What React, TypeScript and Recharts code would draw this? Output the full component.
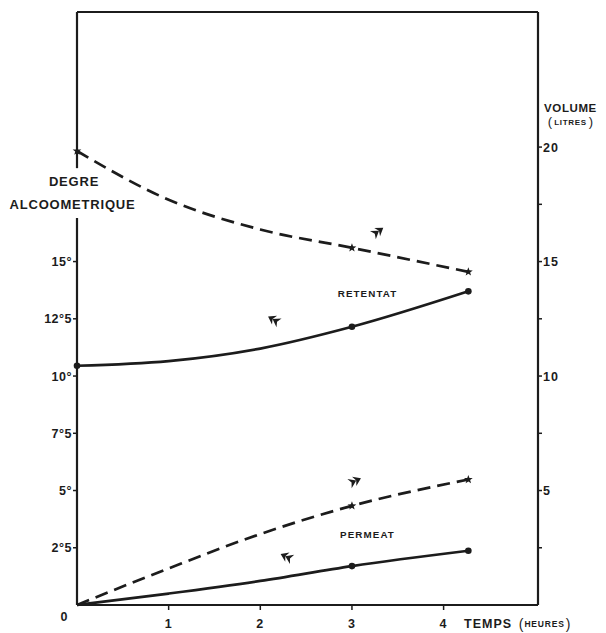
import React from 'react';
import { ComposedChart, Line, XAxis, YAxis, ReferenceLine, ReferenceDot, Label } from 'recharts';

// time (hours)
const times = [0, 1, 2, 3, 4.27];
const retentatMarkers = [true, false, false, true, true];
const permeatMarkers = [false, false, false, true, true];
// volumes (litres, right axis)
const retentatVolume = [19.83, 17.7, 16.4, 15.6, 14.55];
const permeatVolume = [0, 1.6, 3.1, 4.33, 5.48];
// alcohol degree (left axis)
const retentatDegree = [10.45, 10.65, 11.2, 12.15, 13.7];
const permeatDegree = [0, 0.5, 1.05, 1.7, 2.37];

const xTicks = [1, 2, 3, 4];
const leftTicks = [2.5, 5, 7.5, 10, 12.5, 15];
const leftTickLabels = ['2°5', '5°', '7°5', '10°', '12°5', '15°'];
const rightTicks = [2.5, 5, 7.5, 10, 12.5, 15, 17.5, 20];
const rightTickLabels = ['', '5', '', '10', '', '15', '', '20'];

// direction arrows [time, value, axis, angle]
const arrowTimes = [3.28, 2.15, 3.03, 2.29];
const arrowValues = [16.3, 12.45, 5.41, 2.1];
const arrowAxes = ['right', 'left', 'right', 'left'];
const arrowAngles = [-35, -150, -25, -155];

const curveLabels = ['RETENTAT', 'PERMEAT'];
const curveLabelTimes = [3.17, 3.17];
const curveLabelValues = [13.62, 3.06];

const X_MAX = 5.03;
const Y_MAX = 25.9;
const INK = '#1c1c1c';
const FONT = '"Liberation Sans", Arial, sans-serif';

const data = times.map((t, i) => ({
  t,
  rv: retentatVolume[i],
  rd: retentatDegree[i],
  pv: permeatVolume[i],
  pd: permeatDegree[i],
  rm: retentatMarkers[i],
  pm: permeatMarkers[i],
}));

function starPath(cx: number, cy: number, R: number, r: number) {
  let d = '';
  for (let i = 0; i < 10; i++) {
    const a = ((-90 + i * 36) * Math.PI) / 180;
    const rad = i % 2 === 0 ? R : r;
    d += (i === 0 ? 'M' : 'L') + (cx + rad * Math.cos(a)).toFixed(2) + ',' + (cy + rad * Math.sin(a)).toFixed(2);
  }
  return d + 'Z';
}

const makeStarDot = (flag: string) => (props: any) => {
  const { cx, cy, payload, index } = props;
  if (!payload[flag] || cx == null) return <g key={'s' + flag + index} />;
  return <path key={'s' + flag + index} d={starPath(cx, cy, 4.6, 1.9)} fill={INK} />;
};

const makeCircleDot = (flag: string) => (props: any) => {
  const { cx, cy, payload, index } = props;
  if (!payload[flag] || cx == null) return <g key={'c' + flag + index} />;
  return <circle key={'c' + flag + index} cx={cx} cy={cy} r={3.3} fill={INK} />;
};

const textStyle = { fontFamily: FONT, fontWeight: 700, fill: INK } as const;

const XTick = (props: any) => {
  const { x, y, payload } = props;
  return (
    <text x={x} y={y + 16} textAnchor="middle" fontSize={12.5} letterSpacing={1} style={textStyle}>
      {payload.value}
    </text>
  );
};

const LeftTick = (props: any) => {
  const { x, y, payload } = props;
  const idx = leftTicks.indexOf(payload.value);
  return (
    <text x={x} y={y + 4.5} textAnchor="end" fontSize={12.5} letterSpacing={0.5} style={textStyle}>
      {leftTickLabels[idx]}
    </text>
  );
};

const RightTick = (props: any) => {
  const { x, y, payload } = props;
  const idx = rightTicks.indexOf(payload.value);
  return (
    <text x={x} y={y + 4.5} textAnchor="start" fontSize={12.5} letterSpacing={1} style={textStyle}>
      {rightTickLabels[idx]}
    </text>
  );
};

const ArrowShape = (angle: number) => (props: any) => {
  const { cx, cy } = props;
  return (
    <g transform={`translate(${cx},${cy}) rotate(${angle}) scale(1.15)`}>
      <path d="M6,0 L-0.5,-4.4 L1.5,0 L-0.5,4.4 Z M1.5,0 L-5,-4.4 L-3,0 L-5,4.4 Z" fill={INK} />
    </g>
  );
};

const TextShape = (txt: string) => (props: any) => {
  const { cx, cy } = props;
  return (
    <text x={cx} y={cy + 3.5} textAnchor="middle" fontSize={9.8} letterSpacing={1.1} style={textStyle}>
      {txt}
    </text>
  );
};

const XLabels = (props: any) => {
  const vb = props.viewBox || { x: 69, y: 597, width: 461, height: 28 };
  const bx = vb.x + 387;
  const by = vb.y + 22.5;
  return (
    <g>
      <text x={vb.x - 13} y={vb.y + 16} textAnchor="middle" fontSize={12.5} style={textStyle}>0</text>
      <text x={bx} y={by} textAnchor="start" fontSize={12.5} letterSpacing={1} style={textStyle}>TEMPS</text>
      <text x={bx + 57} y={by + 1} textAnchor="middle" fontSize={14} fontFamily={FONT} fill={INK}>(</text>
      <text x={bx + 80.5} y={by - 0.5} textAnchor="middle" fontSize={8.5} letterSpacing={0.8} style={textStyle}>HEURES</text>
      <text x={bx + 104} y={by + 1} textAnchor="middle" fontSize={14} fontFamily={FONT} fill={INK}>)</text>
    </g>
  );
};

const LeftLabels = (props: any) => {
  const vb = props.viewBox || { x: 8, y: 4, width: 61, height: 593 };
  const ax = vb.x + vb.width;
  return (
    <g>
      <text x={ax - 3} y={vb.y + 173.5} textAnchor="middle" fontSize={13} letterSpacing={0.8} style={textStyle}>DEGRE</text>
      <text x={ax - 4.5} y={vb.y + 196.5} textAnchor="middle" fontSize={13} letterSpacing={0.8} style={textStyle}>ALCOOMETRIQUE</text>
    </g>
  );
};

const RightLabels = (props: any) => {
  const vb = props.viewBox || { x: 530, y: 4, width: 60, height: 593 };
  const cx = vb.x + 32.5;
  const by = vb.y + 113;
  return (
    <g>
      <text x={cx} y={vb.y + 99.5} textAnchor="middle" fontSize={11.5} letterSpacing={0.6} style={textStyle}>VOLUME</text>
      <text x={cx - 20.5} y={by + 1} textAnchor="middle" fontSize={13} fontFamily={FONT} fill={INK}>(</text>
      <text x={cx} y={by - 0.5} textAnchor="middle" fontSize={8} letterSpacing={0.7} style={textStyle}>LITRES</text>
      <text x={cx + 20.5} y={by + 1} textAnchor="middle" fontSize={13} fontFamily={FONT} fill={INK}>)</text>
    </g>
  );
};

export default function App() {
  return (
    <div style={{ width: 590, height: 625, background: '#fff' }}>
      <ComposedChart
        width={590}
        height={625}
        data={data}
        margin={{ top: 4, right: 0, bottom: 0, left: 8 }}
      >
        <XAxis
          dataKey="t"
          type="number"
          domain={[0, X_MAX]}
          ticks={xTicks}
          interval={0}
          height={28}
          tickSize={5}
          tickMargin={2}
          axisLine={{ stroke: INK, strokeWidth: 2.2 }}
          tickLine={{ stroke: INK, strokeWidth: 1.5 }}
          tick={<XTick />}
        >
          <Label content={<XLabels />} />
        </XAxis>
        <YAxis
          yAxisId="left"
          orientation="left"
          type="number"
          domain={[0, Y_MAX]}
          ticks={leftTicks}
          interval={0}
          width={61}
          tickSize={4}
          tickMargin={1}
          axisLine={false}
          tickLine={{ stroke: INK, strokeWidth: 1.5 }}
          tick={<LeftTick />}
        >
          <Label content={<LeftLabels />} />
        </YAxis>
        <YAxis
          yAxisId="right"
          orientation="right"
          type="number"
          domain={[0, Y_MAX]}
          ticks={rightTicks}
          interval={0}
          width={60}
          tickSize={4}
          tickMargin={1}
          axisLine={{ stroke: INK, strokeWidth: 2.2 }}
          tickLine={{ stroke: INK, strokeWidth: 1.5 }}
          tick={<RightTick />}
        >
          <Label content={<RightLabels />} />
        </YAxis>

        <ReferenceLine yAxisId="left" y={Y_MAX} stroke={INK} strokeWidth={2.2} />
        <ReferenceLine yAxisId="left" segment={[{ x: 0, y: 0 }, { x: 0, y: 16.9 }]} stroke={INK} strokeWidth={2.2} />
        <ReferenceLine yAxisId="left" segment={[{ x: 0, y: 19.08 }, { x: 0, y: Y_MAX }]} stroke={INK} strokeWidth={2.2} />

        <Line yAxisId="right" dataKey="rv" type="monotone" stroke={INK} strokeWidth={2.7} strokeDasharray="13 7" dot={makeStarDot('rm')} activeDot={false} isAnimationActive={false} />
        <Line yAxisId="left" dataKey="rd" type="monotone" stroke={INK} strokeWidth={2.7} dot={makeCircleDot('rm')} activeDot={false} isAnimationActive={false} />
        <Line yAxisId="right" dataKey="pv" type="monotone" stroke={INK} strokeWidth={2.7} strokeDasharray="13 7" dot={makeStarDot('pm')} activeDot={false} isAnimationActive={false} />
        <Line yAxisId="left" dataKey="pd" type="monotone" stroke={INK} strokeWidth={2.7} dot={makeCircleDot('pm')} activeDot={false} isAnimationActive={false} />

        {arrowTimes.map((t, i) => (
          <ReferenceDot key={'a' + i} yAxisId={arrowAxes[i]} x={t} y={arrowValues[i]} r={0} shape={ArrowShape(arrowAngles[i])} />
        ))}
        {curveLabels.map((txt, i) => (
          <ReferenceDot key={'l' + i} yAxisId="left" x={curveLabelTimes[i]} y={curveLabelValues[i]} r={0} shape={TextShape(txt)} />
        ))}
      </ComposedChart>
    </div>
  );
}
